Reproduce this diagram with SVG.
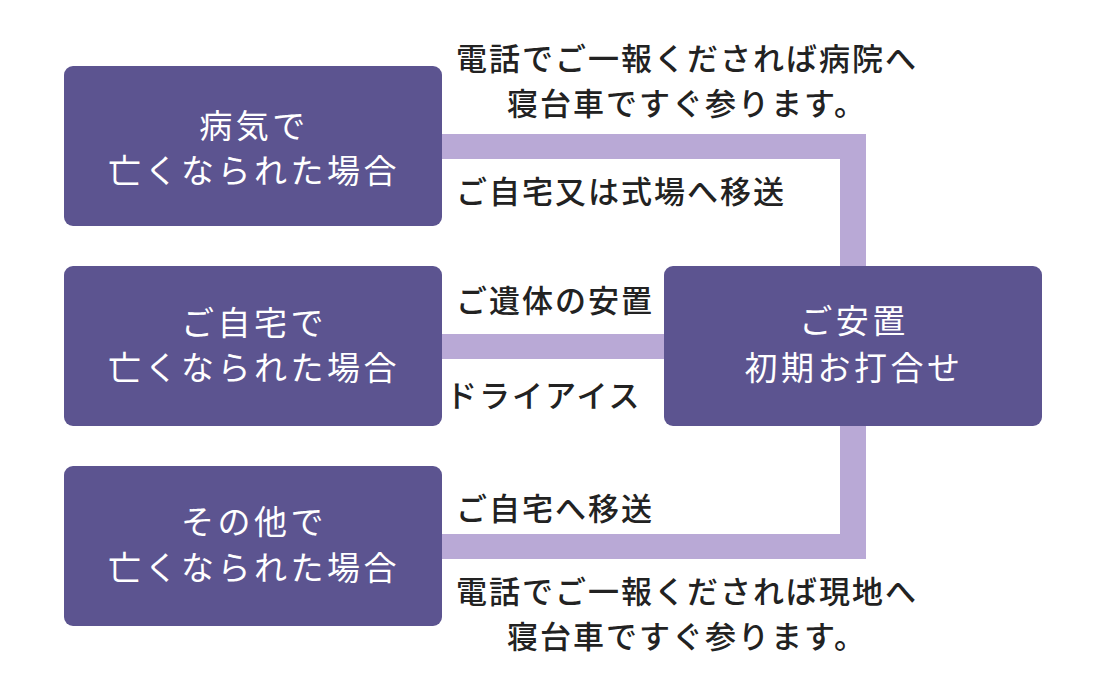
<svg xmlns="http://www.w3.org/2000/svg" width="1100" height="700" viewBox="0 0 1100 700">
<style>
.box{fill:#5c5490}
.band{fill:#b9a9d6}
.bt{fill:#ffffff;font-family:"Liberation Serif","Noto Sans CJK JP",serif;font-size:33px;letter-spacing:3.5px;text-anchor:middle;dominant-baseline:central}
.lt{fill:#222222;font-family:"Noto Sans CJK JP","Noto Sans CJK SC",sans-serif;font-size:31px;font-weight:500;letter-spacing:2px;dominant-baseline:central}
.c{text-anchor:middle}
</style>
<rect width="1100" height="700" fill="#ffffff"/>
<g id="connectors">
<rect class="band" x="441" y="134" width="425" height="25"/>
<rect class="band" x="840" y="134" width="26" height="134"/>
<rect class="band" x="441" y="334" width="225" height="25"/>
<rect class="band" x="441" y="534" width="425" height="25"/>
<rect class="band" x="840" y="423" width="26" height="136"/>
</g>
<g id="node-byoki">
<rect class="box" x="64" y="66" width="378" height="160" rx="9"/>
<text class="bt" x="254" y="127">病気で</text>
<text class="bt" x="254" y="172">亡くなられた場合</text>
</g>
<g id="node-jitaku">
<rect class="box" x="64" y="266" width="378" height="160" rx="9"/>
<text class="bt" x="254" y="324">ご自宅で</text>
<text class="bt" x="254" y="369">亡くなられた場合</text>
</g>
<g id="node-sonota">
<rect class="box" x="64" y="466" width="378" height="160" rx="9"/>
<text class="bt" x="254" y="523">その他で</text>
<text class="bt" x="254" y="569">亡くなられた場合</text>
</g>
<g id="node-anchi">
<rect class="box" x="664" y="266" width="378" height="160" rx="9"/>
<text class="bt" x="854" y="322">ご安置</text>
<text class="bt" x="854" y="369">初期お打合せ</text>
</g>
<g id="labels">
<text class="lt c" x="687" y="56">電話でご一報くだされば病院へ</text>
<text class="lt c" x="687" y="101">寝台車ですぐ参ります。</text>
<text class="lt" x="456" y="189">ご自宅又は式場へ移送</text>
<text class="lt" x="456" y="298">ご遺体の安置</text>
<text class="lt" x="446" y="393">ドライアイス</text>
<text class="lt" x="456" y="506">ご自宅へ移送</text>
<text class="lt c" x="687" y="589">電話でご一報くだされば現地へ</text>
<text class="lt c" x="687" y="634">寝台車ですぐ参ります。</text>
</g>
</svg>
